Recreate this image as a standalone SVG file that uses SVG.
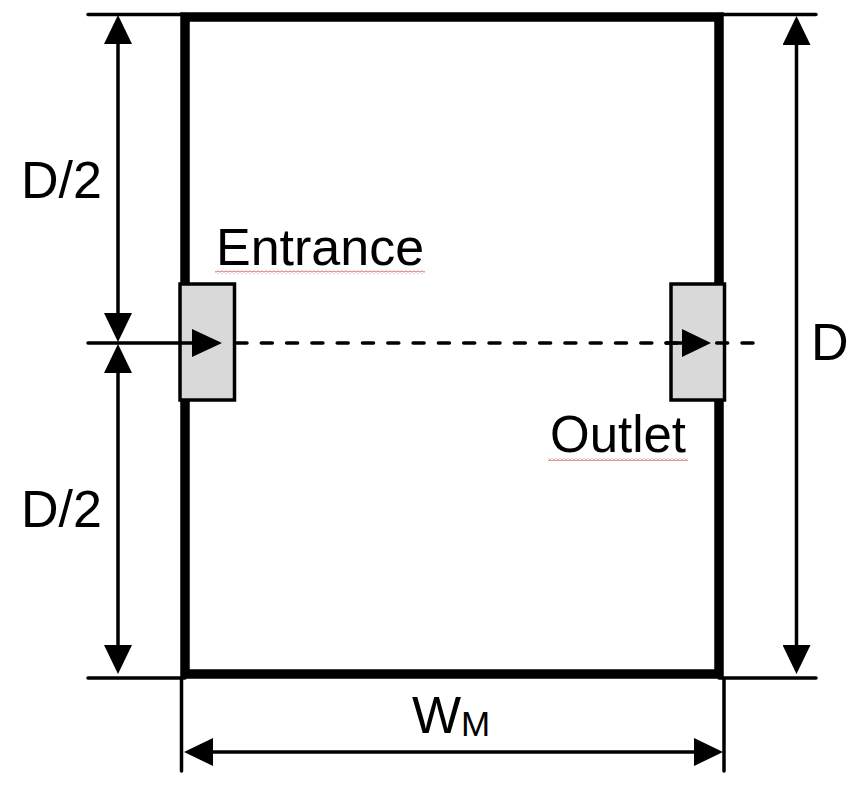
<svg xmlns="http://www.w3.org/2000/svg" width="857" height="786" viewBox="0 0 857 786">
  <style>
    text { font-family: "Liberation Sans", Arial, sans-serif; font-size: 52px; fill: #000; }
    .thin { stroke: #000; stroke-width: 3.500; fill: none; stroke-linecap: round; }
    .shaft { stroke: #000; stroke-width: 3.500; fill: none; stroke-linecap: butt; }
    .dash { stroke: #000; stroke-width: 3.500; fill: none; stroke-linecap: round; stroke-dasharray: 11 14.3; }
    .port { fill: #d9d9d9; stroke: #000; stroke-width: 3.500; }
    .head { fill: #000; stroke: none; }
  </style>
  <defs>
    <pattern id="squiggle" x="0" y="0" width="4" height="3" patternUnits="userSpaceOnUse">
      <path d="M0 2.500L2 0.500L4 2.500" fill="none" stroke="#c0392b" stroke-width="1"/>
    </pattern>
    <marker id="ah" viewBox="0 0 29 28" markerUnits="userSpaceOnUse" markerWidth="29" markerHeight="28" refX="25" refY="14" orient="auto-start-reverse">
      <path class="head" d="M0 0L29 14L0 28Z"/>
    </marker>
  </defs>
  <rect width="857" height="786" fill="#fff"/>
  <g id="room">
    <rect x="185" y="17" width="534" height="657" fill="none" stroke="#000" stroke-width="9.500"/>
  </g>
  <g id="entrance">
    <rect class="port" x="180" y="284" width="54.500" height="116"/>
    <text x="216" y="265">Entrance</text>
    <rect x="215" y="270.500" width="210" height="3" fill="url(#squiggle)"/>
  </g>
  <g id="outlet">
    <rect class="port" x="671" y="284" width="53.500" height="116"/>
    <text x="550" y="452" textLength="136" lengthAdjust="spacingAndGlyphs">Outlet</text>
    <rect x="548" y="458" width="140" height="3" fill="url(#squiggle)"/>
  </g>
  <g id="connectors">
    <path class="thin" d="M88 14.500H185M719 14.500H816M88 678H185M719 678H816M88 343H192M181.500 678V771M724 678V771"/>
    <path class="dash" d="M236 343H757"/>
    <path class="shaft" d="M118 19V338" marker-start="url(#ah)" marker-end="url(#ah)"/>
    <path class="shaft" d="M118 348V670" marker-start="url(#ah)" marker-end="url(#ah)"/>
    <path class="shaft" d="M796.500 20V670" marker-start="url(#ah)" marker-end="url(#ah)"/>
    <path class="shaft" d="M188 752H719" marker-start="url(#ah)" marker-end="url(#ah)"/>
    <path class="head" d="M192 329L222 343L192 357Z"/>
    <path class="thin" d="M666 343H684"/>
    <path class="head" d="M682 329L711 343L682 357Z"/>
  </g>
  <g id="labels">
    <text x="21" y="198">D/2</text>
    <text x="21" y="527">D/2</text>
    <text x="811" y="360">D</text>
    <text x="412" y="733">W<tspan font-size="35" dy="3">M</tspan></text>
  </g>
</svg>
